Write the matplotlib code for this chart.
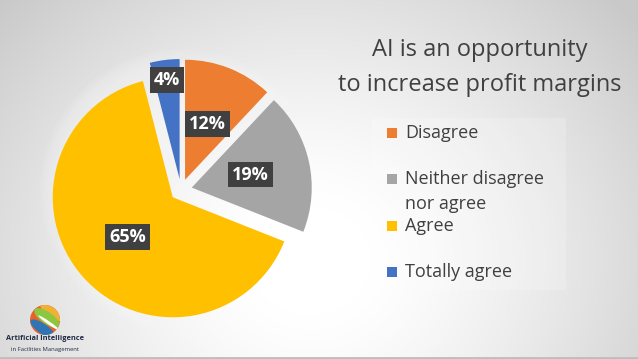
import numpy as np
import matplotlib
matplotlib.use('Agg')
import matplotlib.pyplot as plt
from matplotlib.patches import Rectangle, Circle, Ellipse

plt.rcParams['font.family'] = ['Open Sans', 'DejaVu Sans']

labels = ['Disagree', 'Neither disagree\nnor agree', 'Agree', 'Totally agree']
values = [12, 19, 65, 4]
colors = ['#ED7D31', '#A5A5A5', '#FFC000', '#4472C4']
title = 'AI is an opportunity\nto increase profit margins'
text_col = '#404040'

W, H = 638, 359
fig = plt.figure(figsize=(W / 100, H / 100), dpi=100)

# background: soft radial gradient, white in the middle, grey at the edges
bg = fig.add_axes([0, 0, 1, 1])
yy, xx = np.mgrid[0:H, 0:W]
d = np.sqrt(((xx - 310) / 1.0) ** 2 + ((yy - 260) / 0.9) ** 2)
v = 1.0 - 0.21 * np.clip((d - 60) / 360, 0, 1) ** 1.3
bg.imshow(np.dstack([v, v, v]), extent=[0, W, H, 0], aspect='auto')
bg.set_xlim(0, W)
bg.set_ylim(H, 0)
bg.axhline(H - 1, color='#bdbdbd', lw=2)
bg.axis('off')

# pie drawn in pixel units (y up)
ax = fig.add_axes([0, 0, 1, 1])
ax.patch.set_alpha(0)

R = 120
cx, cy = 181, H - 190
for k in range(6):
    ax.add_patch(Circle((cx, cy), R + 6 + 3 * k, color='white', alpha=0.08, lw=0))

wedges, _, autotexts = ax.pie(
    values, colors=colors, startangle=90, counterclock=False,
    explode=[11] * 4, radius=R, center=(cx, cy), autopct='%d%%',
    pctdistance=0.5, frame=True,
    textprops=dict(color='white', fontsize=13, fontweight='bold'))
ax.set_xlim(0, W)
ax.set_ylim(0, H)
ax.set_aspect('equal')
ax.axis('off')

for t in autotexts:
    t.set_bbox(dict(facecolor='#404040', edgecolor='none', boxstyle='square,pad=0.22'))
# the small slice keeps its label near the rim
w = wedges[3]
ang = np.deg2rad((w.theta1 + w.theta2) / 2)
autotexts[3].set_position((w.center[0] + 0.83 * R * np.cos(ang),
                           w.center[1] + 0.83 * R * np.sin(ang)))

# title
fig.text(480 / W, 1 - 50 / H, title.split('\n')[0], ha='center', va='center',
         fontsize=17, color=text_col)
fig.text(480 / W, 1 - 85 / H, title.split('\n')[1], ha='center', va='center',
         fontsize=17, color=text_col)

# legend
fig.patches.append(Rectangle((372 / W, 1 - 290 / H), 194 / W, 172 / H,
                             transform=fig.transFigure, facecolor='white',
                             alpha=0.2, edgecolor='none'))
for i, (lab, c) in enumerate(zip(labels, colors)):
    yc = 133 + i * 46.3
    fig.patches.append(Rectangle((387 / W, 1 - (yc + 5) / H), 10 / W, 10 / H,
                                 transform=fig.transFigure, facecolor=c,
                                 edgecolor='none'))
    for j, line in enumerate(lab.split('\n')):
        fig.text(405 / W, 1 - (yc + 5 + 25 * j) / H, line, ha='left',
                 va='baseline', fontsize=13, color=text_col)

# logo in the corner
lx, ly, lr = 45, H - 320, 15
ball = Circle((lx, ly), lr, facecolor='#E8612C', lw=0)
ax.add_patch(ball)
for (ox, oy, ew, eh, a, c) in [(8, 9, 30, 14, -35, '#F2B134'),
                               (2, 2, 30, 12, -35, '#8DC63F'),
                               (-2, -9, 30, 10, -35, '#2E75B6'),
                               (4, -3, 26, 3, -35, 'white')]:
    e = Ellipse((lx + ox, ly + oy), ew, eh, angle=a, facecolor=c, lw=0)
    ax.add_patch(e)
    e.set_clip_path(ball)
fig.text(45 / W, 1 - 339 / H, 'Artificial Intelligence', ha='center', va='center',
         fontsize=5.3, fontweight='bold', color='#1F2A44')
fig.text(45 / W, 1 - 349 / H, 'in Facilities Management', ha='center', va='center',
         fontsize=4.2, color='#1F2A44')

fig.savefig('out.png', dpi=100)
